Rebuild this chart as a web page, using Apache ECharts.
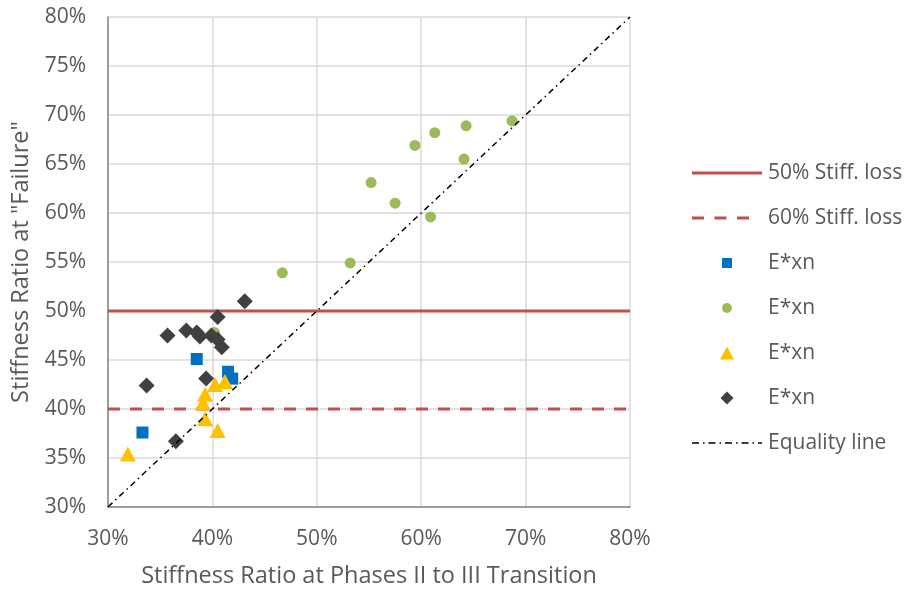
<!DOCTYPE html>
<html>
<head>
<meta charset="utf-8">
<script src="https://cdn.jsdelivr.net/npm/echarts@6/dist/echarts.min.js"></script>
<style>html,body{margin:0;padding:0;background:#fff}#c{width:906px;height:593px}</style>
</head>
<body>
<div id="c"></div>
<script>
// Axis ticks (percent)
const xTicks = [30, 40, 50, 60, 70, 80];
const yTicks = [30, 35, 40, 45, 50, 55, 60, 65, 70, 75, 80];

// Reference lines
const loss50 = [[30, 50], [80, 50]];
const loss60 = [[30, 40], [80, 40]];
const equality = [[30, 30], [80, 80]];

// Series 1 (blue squares): [x%, y%]
const blueX = [33.3, 38.5, 41.5, 41.9];
const blueY = [37.6, 45.1, 43.8, 43.1];

// Series 2 (green circles)
const greenX = [40.2, 46.7, 53.2, 55.2, 57.5, 59.4, 61.3, 60.9, 64.1, 64.3, 68.7];
const greenY = [47.8, 53.9, 54.9, 63.1, 61.0, 66.9, 68.2, 59.6, 65.5, 68.9, 69.4];

// Series 3 (yellow triangles)
const yellowX = [31.9, 41.2, 40.25, 39.3, 39.1, 39.3, 40.5];
const yellowY = [35.4, 42.8, 42.5, 41.5, 40.6, 39.0, 37.8];

// Series 4 (dark diamonds)
const darkX = [43.1, 40.5, 35.7, 37.5, 38.5, 38.8, 39.9, 40.5, 40.9, 33.7, 39.4, 36.5];
const darkY = [51.0, 49.4, 47.5, 48.0, 47.8, 47.4, 47.5, 47.1, 46.3, 42.4, 43.1, 36.7];

const names = ['50% Stiff. loss', '60% Stiff. loss', 'E*xn #1', 'E*xn #2', 'E*xn #3', 'E*xn #4', 'Equality line'];

function zip(a, b) { return a.map((v, i) => [v, b[i]]); }

const FONT = 'Open Sans';
const TXT = '#595959';
const RED = '#C0504D';
const FS = 21;
const FS_TITLE = 23.5;

// legend icon definitions
const dashPath = 'path://M0,0h12v3h-12zM22.5,0h12v3h-12zM45,0h12v3h-12z';
const dashDotPath = 'path://M0,0h7v1.6h-7zM11,0h1.6v1.6h-1.6zM16.5,0h7v1.6h-7zM27.5,0h1.6v1.6h-1.6zM33,0h7v1.6h-7zM44,0h1.6v1.6h-1.6zM49.5,0h7v1.6h-7zM60.5,0h1.6v1.6h-1.6zM66,0h4v1.6h-4z';

const legendCenters = [173, 218, 263, 308, 353, 398, 443];
const textStart = 768;
const iconSpec = [
  { icon: 'rect', w: 70, h: 3, left: 692 },
  { icon: dashPath, w: 57, h: 3, left: 692 },
  { icon: 'rect', w: 10, h: 10, left: 722 },
  { icon: 'circle', w: 10, h: 10, left: 722 },
  { icon: 'triangle', w: 14, h: 13, left: 720 },
  { icon: 'diamond', w: 13, h: 13, left: 720.5 },
  { icon: dashDotPath, w: 70, h: 1.6, left: 692 }
];

const legends = names.map((n, i) => {
  const s = iconSpec[i];
  const pad = textStart - (s.left + s.w + 5);
  return {
    data: [{ name: n, icon: s.icon }],
    orient: 'vertical',
    left: s.left,
    top: legendCenters[i] - 12,
    padding: 0,
    itemWidth: s.w,
    itemHeight: s.h,
    selectedMode: false,
    itemStyle: { borderWidth: 0 },
    lineStyle: { width: 0 },
    formatter: nm => nm.indexOf('E*xn') === 0 ? 'E*xn' : nm,
    textStyle: { fontFamily: FONT, fontSize: FS, color: TXT, lineHeight: 24, padding: [0, 0, 0, pad] }
  };
});

const chart = echarts.init(document.getElementById('c'), null, { renderer: 'canvas' });
chart.setOption({
  animation: false,
  backgroundColor: '#fff',
  grid: { left: 108, right: 276, top: 17, bottom: 83, containLabel: false },
  legend: legends,
  xAxis: {
    type: 'value', min: xTicks[0], max: xTicks[xTicks.length - 1], interval: 10,
    name: 'Stiffness Ratio at Phases II to III Transition',
    nameLocation: 'middle', nameGap: 57,
    nameTextStyle: { fontFamily: FONT, fontSize: FS_TITLE, color: TXT },
    axisLine: { show: true, lineStyle: { color: '#868686', width: 1.5 } },
    axisTick: { show: false },
    axisLabel: { formatter: '{value}%', fontFamily: FONT, fontSize: FS, color: TXT, margin: 22 },
    splitLine: { show: true, lineStyle: { color: '#D9D9D9', width: 1.5 } }
  },
  yAxis: {
    type: 'value', min: yTicks[0], max: yTicks[yTicks.length - 1], interval: 5,
    name: 'Stiffness Ratio at "Failure"',
    nameLocation: 'middle', nameGap: 74,
    nameTextStyle: { fontFamily: FONT, fontSize: FS_TITLE, color: TXT },
    axisLine: { show: true, lineStyle: { color: '#868686', width: 1.5 } },
    axisTick: { show: false },
    axisLabel: { formatter: '{value}%', fontFamily: FONT, fontSize: FS, color: TXT, margin: 22 },
    splitLine: { show: true, lineStyle: { color: '#D9D9D9', width: 1.5 } }
  },
  series: [
    { name: names[0], type: 'line', data: loss50, symbol: 'none', z: 2,
      lineStyle: { color: RED, width: 3 }, itemStyle: { color: RED } },
    { name: names[1], type: 'line', data: loss60, symbol: 'none', z: 2,
      lineStyle: { color: RED, width: 3, type: [12, 10] }, itemStyle: { color: RED } },
    { name: names[2], type: 'scatter', data: zip(blueX, blueY), symbol: 'rect', symbolSize: 12, z: 3,
      itemStyle: { color: '#0070C0', opacity: 1 } },
    { name: names[3], type: 'scatter', data: zip(greenX, greenY), symbol: 'circle', symbolSize: 11, z: 3,
      itemStyle: { color: '#9BBB59', opacity: 1 } },
    { name: names[4], type: 'scatter', data: zip(yellowX, yellowY), symbol: 'triangle', symbolSize: [16, 15], z: 3,
      itemStyle: { color: '#FFC000', opacity: 1 } },
    { name: names[5], type: 'scatter', data: zip(darkX, darkY), symbol: 'diamond', symbolSize: 16, z: 3,
      itemStyle: { color: '#404040', opacity: 1 } },
    { name: names[6], type: 'line', data: equality, symbol: 'none', z: 4,
      lineStyle: { color: '#000', width: 1.5, type: [6, 4, 1.5, 4] }, itemStyle: { color: '#000' } }
  ]
});
</script>
</body>
</html>
